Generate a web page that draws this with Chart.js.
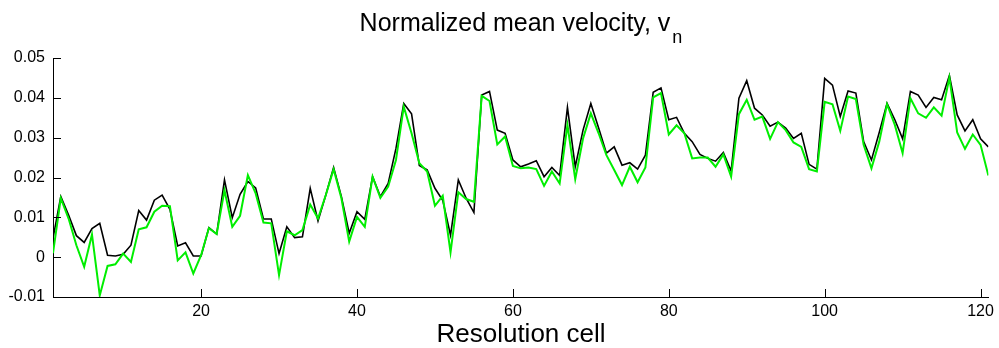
<!DOCTYPE html>
<html>
<head>
<meta charset="utf-8">
<script src="https://cdn.jsdelivr.net/npm/chart.js@4/dist/chart.umd.min.js"></script>
<style>
html,body{margin:0;padding:0;background:#fff;}
#wrap{width:999px;height:348px;}
</style>
</head>
<body>
<div id="wrap"><canvas id="c" width="999" height="348"></canvas></div>
<script>
const titleMain = "Normalized mean velocity, v";
const titleSub = "n";
const xTitle = "Resolution cell";

const cells = [1,2,3,4,5,6,7,8,9,10,11,12,13,14,15,16,17,18,19,20,
21,22,23,24,25,26,27,28,29,30,31,32,33,34,35,36,37,38,39,40,
41,42,43,44,45,46,47,48,49,50,51,52,53,54,55,56,57,58,59,60,
61,62,63,64,65,66,67,68,69,70,71,72,73,74,75,76,77,78,79,80,
81,82,83,84,85,86,87,88,89,90,91,92,93,94,95,96,97,98,99,100,
101,102,103,104,105,106,107,108,109,110,111,112,113,114,115,116,117,118,119,120,121];

const blackSeries = [
0.0047,0.0152,0.0106,0.0054,0.0037,0.0072,0.0085,0.0005,0.0003,0.0007,
0.0030,0.0117,0.0093,0.0143,0.0156,0.0120,0.0028,0.0036,0.0003,0.0003,
0.0074,0.0058,0.0194,0.0099,0.0158,0.0190,0.0174,0.0096,0.0096,0.0009,
0.0076,0.0049,0.0051,0.0173,0.0091,0.0156,0.0225,0.0152,0.0060,0.0114,
0.0095,0.0202,0.0152,0.0185,0.0273,0.0386,0.0360,0.0230,0.0219,0.0173,
0.0143,0.0055,0.0194,0.0148,0.0112,0.0407,0.0416,0.0319,0.0311,0.0244,
0.0227,0.0234,0.0242,0.0202,0.0225,0.0205,0.0376,0.0227,0.0319,0.0386,
0.0324,0.0261,0.0277,0.0231,0.0237,0.0221,0.0256,0.0414,0.0425,0.0345,
0.0351,0.0311,0.0290,0.0258,0.0248,0.0241,0.0263,0.0216,0.0399,0.0443,
0.0374,0.0357,0.0329,0.0339,0.0324,0.0298,0.0311,0.0233,0.0221,0.0449,
0.0432,0.0353,0.0417,0.0412,0.0290,0.0244,0.0313,0.0386,0.0345,0.0297,
0.0416,0.0407,0.0376,0.0401,0.0395,0.0456,0.0357,0.0317,0.0345,0.0297,
0.0277];

const greenSeries = [
0.0010,0.0148,0.0097,0.0030,-0.0024,0.0057,-0.0096,-0.0022,-0.0018,0.0009,
-0.0012,0.0070,0.0075,0.0114,0.0129,0.0128,-0.0008,0.0012,-0.0041,0.0005,
0.0073,0.0058,0.0168,0.0076,0.0104,0.0206,0.0160,0.0087,0.0085,-0.0045,
0.0065,0.0055,0.0068,0.0132,0.0097,0.0156,0.0221,0.0148,0.0039,0.0101,
0.0076,0.0202,0.0149,0.0177,0.0244,0.0378,0.0311,0.0236,0.0215,0.0129,
0.0154,0.0012,0.0163,0.0146,0.0139,0.0405,0.0392,0.0283,0.0303,0.0229,
0.0223,0.0225,0.0221,0.0179,0.0215,0.0185,0.0332,0.0196,0.0298,0.0361,
0.0311,0.0256,0.0219,0.0181,0.0227,0.0188,0.0225,0.0401,0.0412,0.0308,
0.0331,0.0311,0.0248,0.0250,0.0250,0.0227,0.0258,0.0202,0.0359,0.0395,
0.0345,0.0353,0.0297,0.0339,0.0319,0.0288,0.0277,0.0221,0.0215,0.0390,
0.0384,0.0317,0.0403,0.0397,0.0282,0.0223,0.0290,0.0384,0.0332,0.0261,
0.0399,0.0361,0.0350,0.0376,0.0355,0.0451,0.0313,0.0272,0.0308,0.0282,
0.0205];

const xTicks = [20,40,60,80,100,120];
const yTicks = [-0.01,0,0.01,0.02,0.03,0.04,0.05];

const FONT = '"Liberation Sans", Arial, Helvetica, sans-serif';

const decor = {
  id: 'decor',
  afterDatasetsDraw(chart) {
    const ctx = chart.ctx;
    const xs = chart.scales.x, ys = chart.scales.y;
    const a = chart.chartArea;
    ctx.save();
    ctx.strokeStyle = '#000';
    ctx.lineWidth = 1;
    ctx.beginPath();
    xTicks.forEach(v => {
      const px = Math.round(xs.getPixelForValue(v)) + 0.5;
      ctx.moveTo(px, a.bottom);
      ctx.lineTo(px, a.bottom - 8);
    });
    yTicks.forEach(v => {
      const py = Math.round(ys.getPixelForValue(v)) + 0.5;
      ctx.moveTo(a.left, py);
      ctx.lineTo(a.left + 8, py);
    });
    ctx.stroke();
    ctx.restore();
  },
  afterDraw(chart) {
    const ctx = chart.ctx;
    ctx.save();
    ctx.fillStyle = '#000';
    ctx.textBaseline = 'alphabetic';
    ctx.textAlign = 'left';
    ctx.font = '25px ' + FONT;
    const W = ctx.measureText(titleMain).width;
    ctx.font = '18px ' + FONT;
    const w = ctx.measureText(titleSub).width;
    const x0 = 520 - (W + w) / 2;
    ctx.font = '25px ' + FONT;
    ctx.fillText(titleMain, x0, 31);
    ctx.font = '18px ' + FONT;
    ctx.fillText(titleSub, x0 + W + 2, 43);
    ctx.font = '26px ' + FONT;
    ctx.textAlign = 'center';
    ctx.fillText(xTitle, 521, 342);
    ctx.restore();
  }
};

new Chart(document.getElementById('c'), {
  type: 'line',
  data: {
    datasets: [
      {
        label: 'green',
        data: cells.map((c, i) => ({x: c, y: greenSeries[i]})),
        borderColor: '#00ee00',
        borderWidth: 2,
        pointRadius: 0,
        tension: 0,
        fill: false,
        order: 0
      },
      {
        label: 'black',
        data: cells.map((c, i) => ({x: c, y: blackSeries[i]})),
        borderColor: '#000000',
        borderWidth: 1.6,
        pointRadius: 0,
        tension: 0,
        fill: false,
        order: 1
      }
    ]
  },
  options: {
    responsive: false,
    animation: false,
    devicePixelRatio: 1,
    layout: { padding: { top: 58, right: 10, left: 0, bottom: 0 } },
    plugins: { legend: { display: false }, title: { display: false }, tooltip: { enabled: false } },
    scales: {
      x: {
        type: 'linear',
        min: 1,
        max: 121,
        afterBuildTicks: s => { s.ticks = xTicks.map(v => ({value: v})); },
        afterFit: s => { s.height = 51; },
        grid: { display: false, drawTicks: false },
        border: { display: true, color: '#000', width: 1 },
        ticks: { color: '#000', font: { family: FONT, size: 16 }, padding: 5, maxRotation: 0, autoSkip: false }
      },
      y: {
        type: 'linear',
        min: -0.01,
        max: 0.05,
        afterBuildTicks: s => { s.ticks = yTicks.map(v => ({value: v})); },
        afterFit: s => { s.width = 53; },
        grid: { display: false, drawTicks: false },
        border: { display: true, color: '#000', width: 1 },
        ticks: {
          color: '#000', font: { family: FONT, size: 16 }, padding: 8,
          callback: v => String(Number(v.toFixed(2)))
        }
      }
    }
  },
  plugins: [decor]
});
</script>
</body>
</html>
